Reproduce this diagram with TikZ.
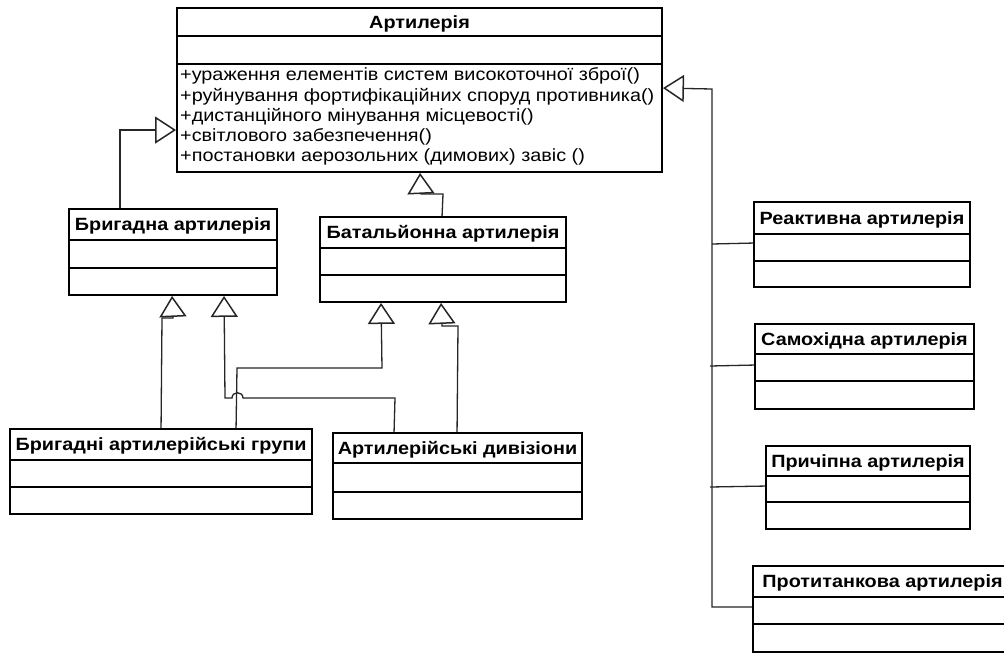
\documentclass[tikz,border=0pt]{standalone}
\usepackage{fontspec}
\setmainfont{Liberation Sans}[FakeStretch=1.12]
\usetikzlibrary{arrows.meta,fit,calc}

\tikzset{
  boxline/.style={draw=black, line width=1.9pt},
  classbox/.style={boxline, inner sep=0pt, fill=none},
  titletext/.style={font=\fontsize{17.7}{20}\selectfont\bfseries, inner sep=0pt},
  methtext/.style={font=\fontsize{17.7}{20}\selectfont, inner sep=0pt, anchor=west},
  conn/.style={draw=black!85, line width=1.3pt},
  gen/.style={conn, -{Triangle[open, length=21pt, width=27pt, line width=1.5pt, fill=white]}},
}

% class box: name, left, top, right, first divider, second divider, bottom, title
\newcommand{\umlbox}[8]{%
  \coordinate (#1-nw) at (#2,#3);
  \coordinate (#1-se) at (#4,#7);
  \node[classbox, fit=(#1-nw)(#1-se)] (#1) {};
  \draw[boxline] (#2,#5) -- (#4,#5);
  \draw[boxline] (#2,#6) -- (#4,#6);
  \node[titletext] (#1-title) at ({(#2+#4)/2},{(#3+#5)/2+1.5}) {#8};
}

\begin{document}
\begin{tikzpicture}[x=1pt, y=-1pt]
\useasboundingbox (0,0) rectangle (1004,653);
\fill[white] (0,0) rectangle (1004,653);

% classes
\umlbox{art}{177}{8}{662}{36}{64}{172}{Артилерія}
\umlbox{brig}{69}{209}{277}{240}{268}{295}{Бригадна артилерія}
\umlbox{bat}{320}{217}{566}{248}{275}{302}{Батальйонна артилерія}
\umlbox{grp}{10}{429}{312}{460}{487}{514}{Бригадні артилерійські групи}
\umlbox{div}{333}{433}{582}{463}{492}{519}{Артилерійські дивізіони}
\umlbox{react}{754}{202}{970}{234}{261}{287}{Реактивна артилерія}
\umlbox{self}{755}{324}{974}{354}{381}{409}{Самохідна артилерія}
\umlbox{tow}{766}{446}{970}{476}{502}{529}{Причіпна артилерія}
\umlbox{anti}{753}{566}{1012}{597}{624}{652}{Протитанкова артилерія}

% operations of the base class
\node[methtext] (m1) at (180,76)  {+ураження елементів систем високоточної зброї()};
\node[methtext] (m2) at (180,97)  {+руйнування фортифікаційних споруд противника()};
\node[methtext] (m3) at (180,117) {+дистанційного мінування місцевості()};
\node[methtext] (m4) at (180,137) {+світлового забезпечення()};
\node[methtext] (m5) at (180,157) {+постановки аерозольних (димових) завіс ()};

% generalisations to the base class
\draw[gen] ($(brig.north west)+(52,0)$) |- ($(art.north west)+(0,123)$);
\draw[gen] ($(bat.north west)+(123,0)$) -- (443,194) -- (421,194) -- ($(art.south west)+(244,0)$);

% right-hand trunk
\coordinate (trunktop) at (712,89);
\draw[gen] ($(anti.north west)+(0,42)$) -| (trunktop) -- ($(art.north east)+(0,81)$);
\draw[conn] ($(react.north west)+(0,42)$) -- (712,244);
\draw[conn] ($(self.north west)+(0,42)$) -- (710,366);
\draw[conn] ($(tow.north west)+(0,41)$) -- (710,487);

% lower generalisations
\draw[gen] ($(grp.north west)+(152,0)$) -- (162,318) -- (173,318) -- ($(brig.south west)+(104,0)$);
\draw[gen] ($(grp.north west)+(227,0)$) -- (237,368) -- (382,368) -- ($(bat.south west)+(62,0)$);
\draw[gen] ($(div.north west)+(62,0)$) -- (395,398) -- (243,398)
  .. controls (243,391) and (232,391) .. (232,398) -- (225,398) -- ($(brig.south west)+(156,0)$);
\draw[gen] ($(div.north west)+(125,0)$) -- (458,326) -- (442,326) -- ($(bat.south west)+(122,0)$);

\end{tikzpicture}
\end{document}
